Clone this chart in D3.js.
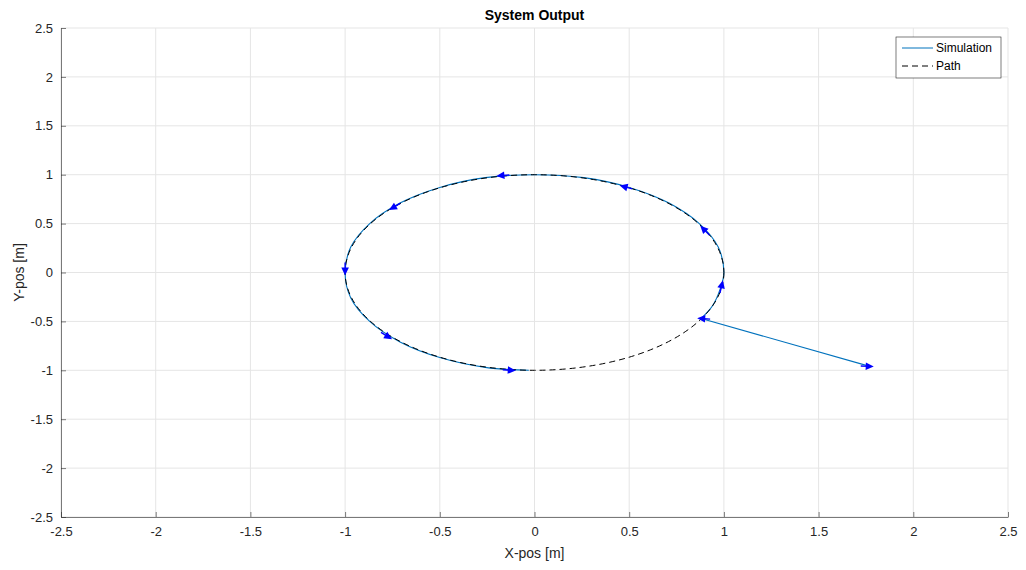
<!DOCTYPE html>
<html>
<head>
<meta charset="utf-8">
<script src="https://cdn.jsdelivr.net/npm/d3@7"></script>
<style>
  body { margin: 0; background: #fff; }
  text { font-family: "Liberation Sans", Arial, sans-serif; }
</style>
</head>
<body>
<svg id="plot"></svg>
<script>
// ticks
const xTicks = [-2.5, -2, -1.5, -1, -0.5, 0, 0.5, 1, 1.5, 2, 2.5];
const yTicks = [-2.5, -2, -1.5, -1, -0.5, 0, 0.5, 1, 1.5, 2, 2.5];

// reference path: circle, center and radius
const pathCenter = [0, 0];
const pathRadius = 1;

// simulated trajectory
const simX = [1.77, 0.88, 0.94, 0.98, 1.0, 0.97, 0.87, 0.71, 0.5, 0.26, 0, -0.26, -0.5, -0.71, -0.87, -0.97, -1.0, -0.97, -0.87, -0.71, -0.5, -0.26, -0.03];
const simY = [-0.96, -0.47, -0.34, -0.17, 0.0, 0.26, 0.5, 0.71, 0.87, 0.97, 1.0, 0.97, 0.87, 0.71, 0.5, 0.26, 0.0, -0.26, -0.5, -0.71, -0.87, -0.97, -1.0];

// heading arrows (position + heading in degrees)
const arrowX = [1.77, 0.88, 0.99, 0.89, 0.47, -0.18, -0.75, -1.0, -0.77, -0.12];
const arrowY = [-0.96, -0.47, -0.12, 0.45, 0.88, 0.99, 0.66, 0.01, -0.66, -1.0];
const arrowHeading = [-4, 172, 83, 117, 152, 190, 229, 270, 310, 353];

const W = 1026, H = 570;
const margin = { top: 28, right: 18, bottom: 53, left: 61 },
    width = W - margin.left - margin.right,
    height = H - margin.top - margin.bottom;

const svg = d3.select("#plot")
  .attr("width", W)
  .attr("height", H)
  .append("g")
  .attr("transform", `translate(${margin.left},${margin.top})`);

const x = d3.scaleLinear().domain([-2.5, 2.5]).range([0, width]);
const y = d3.scaleLinear().domain([-2.5, 2.5]).range([height, 0]);

// grid
svg.append("g").selectAll("line")
  .data(xTicks)
  .enter().append("line")
    .attr("x1", d => x(d)).attr("x2", d => x(d))
    .attr("y1", 0).attr("y2", height)
    .attr("stroke", "#e5e5e5");
svg.append("g").selectAll("line")
  .data(yTicks)
  .enter().append("line")
    .attr("y1", d => y(d)).attr("y2", d => y(d))
    .attr("x1", 0).attr("x2", width)
    .attr("stroke", "#e5e5e5");

// axes (ticks inward), plain hyphen for negatives like the original
const fmt = d => String(d);
const xAxis = svg.append("g")
  .attr("transform", `translate(0,${height})`)
  .call(d3.axisBottom(x).tickValues(xTicks).tickSizeInner(-5).tickSizeOuter(0).tickPadding(8).tickFormat(fmt));
const yAxis = svg.append("g")
  .call(d3.axisLeft(y).tickValues(yTicks).tickSizeInner(-5).tickSizeOuter(0).tickPadding(8).tickFormat(fmt));
[xAxis, yAxis].forEach(a => {
  a.select(".domain").attr("stroke", "#262626").attr("stroke-width", 0.6);
  a.selectAll(".tick line").attr("stroke", "#262626").attr("stroke-width", 0.6);
  a.selectAll(".tick text").attr("fill", "#262626").style("font-size", "13px")
    .style("font-family", "'Liberation Sans', Arial, sans-serif");
});
xAxis.selectAll(".tick text").attr("dy", "0.85em");

// labels
svg.append("text")
  .attr("x", width / 2).attr("y", -8)
  .attr("text-anchor", "middle")
  .style("font-size", "14px").style("font-weight", "bold")
  .attr("fill", "#000")
  .text("System Output");
svg.append("text")
  .attr("x", width / 2).attr("y", height + 41)
  .attr("text-anchor", "middle")
  .style("font-size", "14px")
  .attr("fill", "#262626")
  .text("X-pos [m]");
svg.append("text")
  .attr("transform", "rotate(-90)")
  .attr("x", -height / 2).attr("y", -37)
  .attr("text-anchor", "middle")
  .style("font-size", "14px")
  .attr("fill", "#262626")
  .text("Y-pos [m]");

// simulation line
const simData = simX.map((v, i) => [v, simY[i]]);
const line = d3.line().x(d => x(d[0])).y(d => y(d[1]));
svg.append("path")
  .datum(simData.slice(0, 2))
  .attr("d", line)
  .attr("fill", "none").attr("stroke", "#0072BD").attr("stroke-width", 1.1);
svg.append("path")
  .datum(simData.slice(1))
  .attr("d", line.curve(d3.curveCatmullRom))
  .attr("fill", "none").attr("stroke", "#0072BD").attr("stroke-width", 1.1);

// path (dashed circle)
svg.append("ellipse")
  .attr("cx", x(pathCenter[0])).attr("cy", y(pathCenter[1]))
  .attr("rx", x(pathRadius) - x(0)).attr("ry", y(0) - y(pathRadius))
  .attr("fill", "none").attr("stroke", "#000").attr("stroke-width", 1)
  .attr("stroke-dasharray", "6,4");

// heading arrows
const arrows = arrowX.map((v, i) => ({ x: v, y: arrowY[i], h: arrowHeading[i] }));
const arrowG = svg.append("g").selectAll("g")
  .data(arrows)
  .enter().append("g")
    .attr("transform", d => {
      const a = d.h * Math.PI / 180;
      const ang = Math.atan2(y(Math.sin(a)) - y(0), x(Math.cos(a)) - x(0)) * 180 / Math.PI;
      return `translate(${x(d.x)},${y(d.y)}) rotate(${ang})`;
    });
arrowG.append("line")
  .attr("x1", -9).attr("x2", 0).attr("y1", 0).attr("y2", 0)
  .attr("stroke", "#0000ff").attr("stroke-width", 1.4);
arrowG.append("path")
  .attr("d", "M4,0 L-4,-3.8 L-4,3.8 Z")
  .attr("fill", "#0000ff");

// legend
const legend = svg.append("g").attr("transform", `translate(${x(2.5) - 112},9)`);
legend.append("rect")
  .attr("width", 105).attr("height", 41)
  .attr("fill", "#fff").attr("stroke", "#262626").attr("stroke-width", 0.6);
const legendItems = ["Simulation", "Path"];
legendItems.forEach((name, i) => {
  const ly = 11 + i * 18;
  legend.append("line")
    .attr("x1", 6).attr("x2", 37).attr("y1", ly).attr("y2", ly)
    .attr("stroke", i === 0 ? "#0072BD" : "#000")
    .attr("stroke-dasharray", i === 0 ? null : "6,4");
  legend.append("text")
    .attr("x", 40).attr("y", ly).attr("dy", "0.35em")
    .style("font-size", "12px").attr("fill", "#000")
    .text(name);
});
</script>
</body>
</html>
